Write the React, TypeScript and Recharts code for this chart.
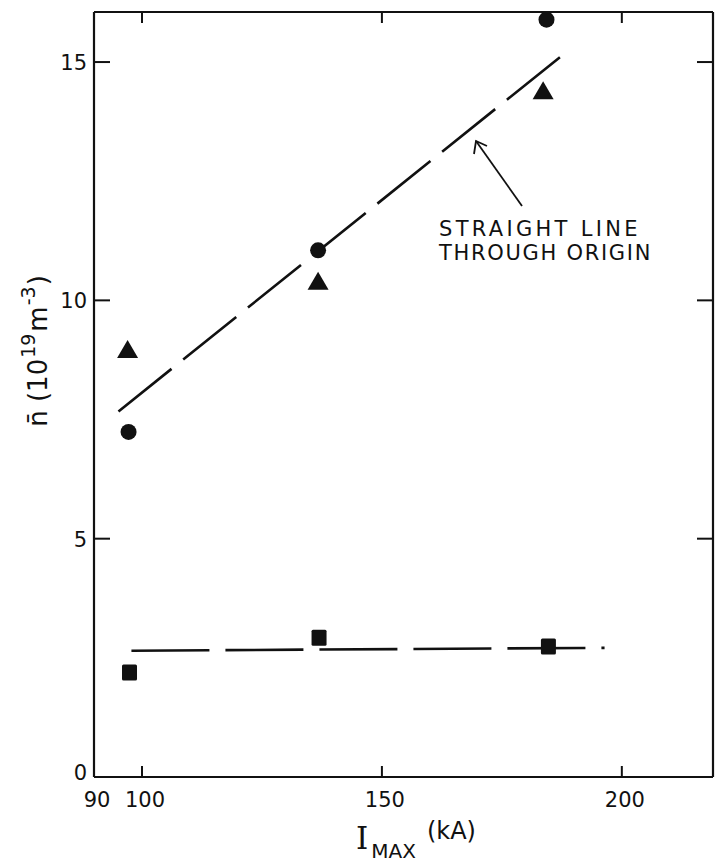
import React from "react";
import { ScatterChart, Scatter, XAxis, YAxis, Customized } from "recharts";

// ---- data ----
const circleX = [97.2, 136.7, 184.3];
const circleY = [7.24, 11.05, 15.89];
const triangleX = [97.0, 136.7, 183.6];
const triangleY = [8.98, 10.41, 14.41];
const squareX = [97.4, 136.9, 184.7];
const squareY = [2.19, 2.92, 2.74];
const originLineX = [95.1, 189.3];
const originLineY = [7.67, 15.28];
const flatLineX = [97.8, 196.4];
const flatLineY = [2.65, 2.71];
const xTicks = [90, 100, 150, 200];
const yTicks = [0, 5, 10, 15];
const xDomain = [90, 219];
const yDomain = [0, 16.05];

const zip = (xs: number[], ys: number[]) => xs.map((x, i) => ({ x, y: ys[i] }));
const circles = zip(circleX, circleY);
const triangles = zip(triangleX, triangleY);
const squares = zip(squareX, squareY);
const originLine = zip(originLineX, originLineY);
const flatLine = zip(flatLineX, flatLineY);

const FONT = "'DejaVu Sans', 'Liberation Sans', sans-serif";
const INK = "#111";

const CircleShape = (p: any) => <circle cx={p.cx} cy={p.cy} r={8} fill={INK} />;
const TriangleShape = (p: any) => (
  <polygon
    points={`${p.cx},${p.cy - 9} ${p.cx - 10.5},${p.cy + 9} ${p.cx + 10.5},${p.cy + 9}`}
    fill={INK}
  />
);
const SquareShape = (p: any) => (
  <rect x={p.cx - 7.5} y={p.cy - 8} width={15} height={16} rx={1.5} fill={INK} />
);
const NoShape = () => <g />;

const BottomTick = (p: any) => {
  const v = p.payload.value;
  return (
    <g>
      {v !== 90 && <line x1={p.x} x2={p.x} y1={p.y} y2={p.y - 11} stroke={INK} strokeWidth={2} />}
      <text x={p.x + 3} y={p.y + 30} textAnchor="middle" fontFamily={FONT} fontSize={21} fill={INK}>
        {v}
      </text>
    </g>
  );
};
const TopTick = (p: any) => {
  const v = p.payload.value;
  if (v === 90) return <g />;
  return <line x1={p.x} x2={p.x} y1={p.y} y2={p.y + 11} stroke={INK} strokeWidth={2} />;
};
const LeftTick = (p: any) => {
  const v = p.payload.value;
  return (
    <g>
      {v !== 0 && <line x1={p.x} x2={p.x + 16} y1={p.y} y2={p.y} stroke={INK} strokeWidth={2} />}
      <text
        x={p.x - 7}
        y={p.y + (v === 0 ? 3 : 8)}
        textAnchor="end"
        fontFamily={FONT}
        fontSize={21}
        fill={INK}
      >
        {v}
      </text>
    </g>
  );
};
const RightTick = (p: any) => {
  const v = p.payload.value;
  if (v === 0) return <g />;
  return <line x1={p.x} x2={p.x - 16} y1={p.y} y2={p.y} stroke={INK} strokeWidth={2} />;
};

const Annotations = () => (
  <g fontFamily={FONT} fill={INK}>
    {/* y-axis title */}
    <text transform="translate(47,351) rotate(-90)" textAnchor="middle" fontSize={26}>
      <tspan>n̄  (10</tspan>
      <tspan fontSize={19} dy={-12} dx={1}>19</tspan>
      <tspan dy={12} dx={2}>m</tspan>
      <tspan fontSize={19} dy={-12} dx={1}>-3</tspan>
      <tspan dy={12} dx={1}>)</tspan>
    </text>
    {/* x-axis title */}
    <text x={356} y={849} fontSize={24}>
      <tspan fontFamily="'DejaVu Serif', serif" fontSize={31}>I</tspan>
      <tspan fontSize={20} dy={9} dx={3}>MAX</tspan>
      <tspan fontSize={24} dy={-19} dx={11}>(kA)</tspan>
    </text>
    {/* annotation */}
    <text x={439} y={236} fontSize={21} letterSpacing={3.3}>STRAIGHT LINE</text>
    <text x={439} y={260} fontSize={21} letterSpacing={1.7}>THROUGH ORIGIN</text>
    <g stroke={INK} strokeWidth={1.8} fill="none">
      <line x1={522} y1={206} x2={476} y2={141} />
      <polyline points="474,154 476,141 487,146" />
    </g>
  </g>
);

export default function App() {
  return (
    <div style={{ position: "absolute", left: 0, top: 0, background: "#fff" }}>
      <ScatterChart width={717} height={862} margin={{ top: 11, right: 3, bottom: 0, left: 0 }}>
        <XAxis
          type="number"
          dataKey="x"
          domain={xDomain}
          ticks={xTicks}
          interval={0}
          allowDataOverflow
          height={85}
          tickSize={0}
          tickMargin={0}
          tickLine={false}
          axisLine={{ stroke: INK, strokeWidth: 2.2 }}
          tick={<BottomTick />}
        />
        <XAxis
          xAxisId="top"
          orientation="top"
          type="number"
          dataKey="x"
          domain={xDomain}
          ticks={xTicks}
          interval={0}
          allowDataOverflow
          height={1}
          tickSize={0}
          tickMargin={0}
          tickLine={false}
          axisLine={{ stroke: INK, strokeWidth: 2.2 }}
          tick={<TopTick />}
        />
        <YAxis
          type="number"
          dataKey="y"
          domain={yDomain}
          ticks={yTicks}
          interval={0}
          allowDataOverflow
          width={94}
          tickSize={0}
          tickMargin={0}
          tickLine={false}
          axisLine={{ stroke: INK, strokeWidth: 2.2 }}
          tick={<LeftTick />}
        />
        <YAxis
          yAxisId="right"
          orientation="right"
          type="number"
          dataKey="y"
          domain={yDomain}
          ticks={yTicks}
          interval={0}
          allowDataOverflow
          width={1}
          tickSize={0}
          tickMargin={0}
          tickLine={false}
          axisLine={{ stroke: INK, strokeWidth: 2.2 }}
          tick={<RightTick />}
        />
        <Scatter
          data={originLine}
          line={{ stroke: INK, strokeWidth: 2.6, strokeDasharray: "68 15" }}
          shape={<NoShape />}
          isAnimationActive={false}
        />
        <Scatter
          data={flatLine}
          line={{ stroke: INK, strokeWidth: 2.6, strokeDasharray: "78 16" }}
          shape={<NoShape />}
          isAnimationActive={false}
        />
        <Scatter data={circles} shape={<CircleShape />} isAnimationActive={false} />
        <Scatter data={triangles} shape={<TriangleShape />} isAnimationActive={false} />
        <Scatter data={squares} shape={<SquareShape />} isAnimationActive={false} />
        <Customized component={Annotations} />
      </ScatterChart>
    </div>
  );
}
